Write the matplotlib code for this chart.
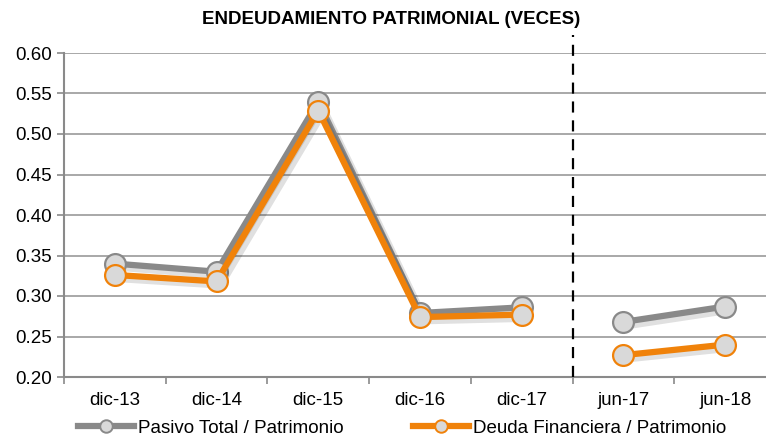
import numpy as np
import matplotlib
matplotlib.use("Agg")
import matplotlib.pyplot as plt
import matplotlib.patheffects as pe

# data
periodos = ["dic-13", "dic-14", "dic-15", "dic-16", "dic-17", "jun-17", "jun-18"]
pasivo_total = [0.340, 0.330, 0.540, 0.279, 0.286, 0.268, 0.287]
deuda_financiera = [0.326, 0.318, 0.529, 0.274, 0.277, 0.227, 0.240]
y_ticks = [0.20, 0.25, 0.30, 0.35, 0.40, 0.45, 0.50, 0.55, 0.60]

plt.rcParams.update({
    "font.family": ["Liberation Sans", "DejaVu Sans"],
    "font.size": 13.5,
})

GRIS = "#898989"
NARANJA = "#F0820A"
RELLENO = "#D9D9D9"
EJE = "#8A8A8A"

fig = plt.figure(figsize=(7.66, 4.37), dpi=100)
ax = fig.add_axes([64 / 766, 1 - 377 / 437, 712 / 766, 324 / 437])

x = np.arange(len(periodos))
sombra = [pe.SimpleLineShadow(offset=(3, -3), shadow_color="black", alpha=0.12, rho=0.9), pe.Normal()]

# anual series (dic) and semestral (jun) drawn as separate segments
anual = x < 5
semestral = ~anual
for serie, color, lbl in [(pasivo_total, GRIS, "Pasivo Total / Patrimonio"),
                          (deuda_financiera, NARANJA, "Deuda Financiera / Patrimonio")]:
    s = np.array(serie)
    for m in [anual, semestral]:
        ax.plot(x[m], s[m], color=color, lw=4.5, solid_capstyle="round",
                path_effects=sombra, zorder=3)
        ax.plot(x[m], s[m], ls="none", marker="o", ms=15, mfc=RELLENO,
                mec=color, mew=1.6, zorder=3)
    # legend proxy
    ax.plot([], [], color=color, lw=4.5, marker="o", ms=9, mfc=RELLENO,
            mec=color, mew=1.4, label=lbl)

# separador entre cierres anuales y semestrales
ax.plot([4.5, 4.5], [0.20, 0.622], color="black", lw=1.6, ls=(0, (5, 3.5)),
        clip_on=False, zorder=4)

ax.set_xlim(-0.5, len(periodos) - 0.5)
ax.set_ylim(0.20, 0.60)
ax.set_yticks(y_ticks)
ax.set_yticklabels([f"{v:.2f}" for v in y_ticks])
ax.set_xticks(x)
ax.set_xticklabels(periodos)
ax.set_xticks(np.arange(-0.5, len(periodos) + 0.5, 1), minor=True)
ax.tick_params(axis="x", which="major", length=0, pad=11)
ax.tick_params(axis="x", which="minor", length=5, width=1.2, color=EJE)
ax.tick_params(axis="y", length=5, width=1.2, color=EJE, pad=4)

ax.grid(axis="y", color="#9A9A9A", lw=1.2)
ax.set_axisbelow(True)
for side in ["top", "right"]:
    ax.spines[side].set_visible(False)
for side in ["left", "bottom"]:
    ax.spines[side].set_color(EJE)
    ax.spines[side].set_linewidth(1.5)

fig.text(391 / 766, 1 - 20 / 437, "ENDEUDAMIENTO PATRIMONIAL (VECES)",
         ha="center", va="center", fontsize=13.5, fontweight="bold")

fig.legend(loc="center", bbox_to_anchor=(402 / 766, 1 - 428 / 437), ncol=2,
           frameon=False, handlelength=3.0, handletextpad=0.2,
           columnspacing=3.7, fontsize=13.5)

fig.savefig("out.png", dpi=100)
